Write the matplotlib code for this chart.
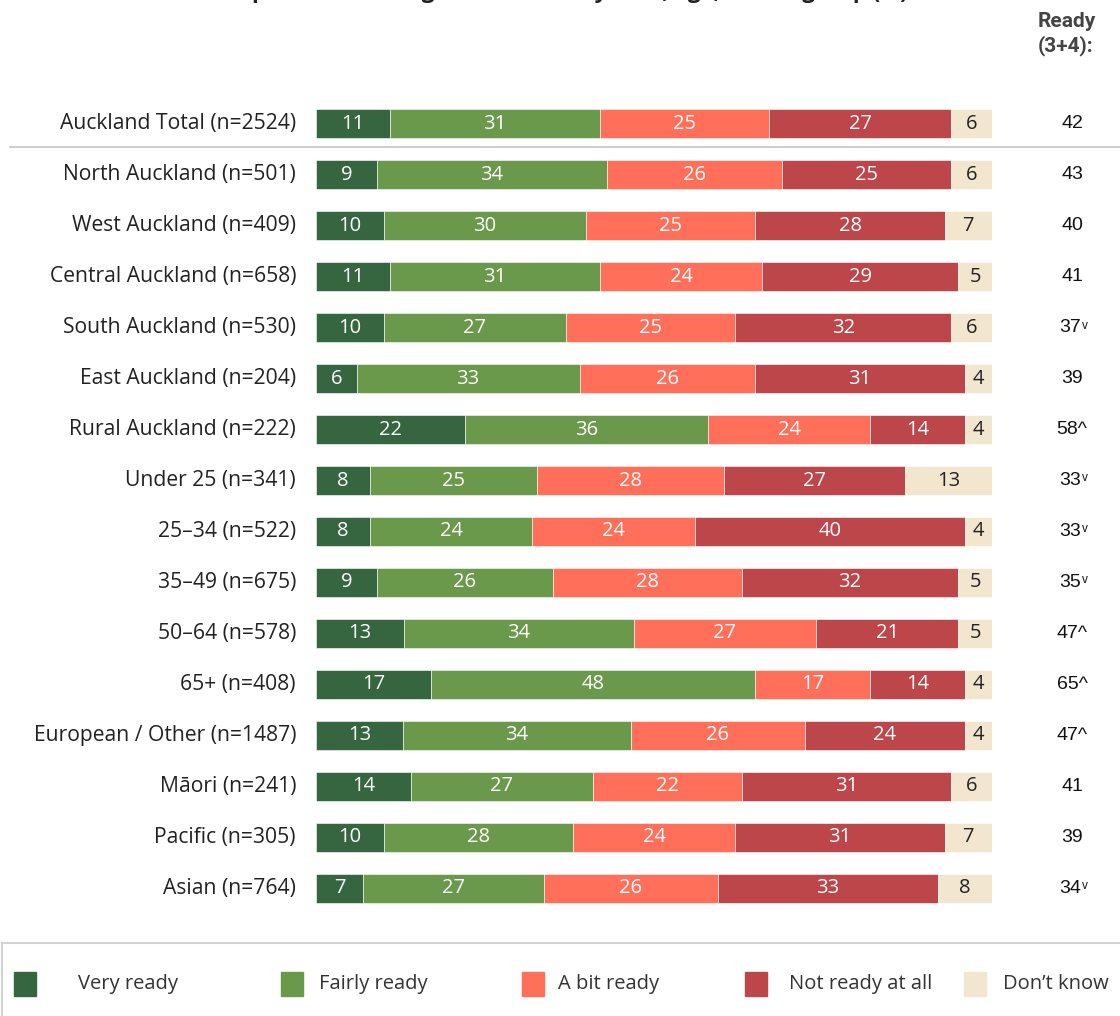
import matplotlib.pyplot as plt
import numpy as np
from matplotlib.patches import Rectangle
from matplotlib.lines import Line2D

# data
groups = ["Auckland Total (n=2524)", "North Auckland (n=501)", "West Auckland (n=409)",
          "Central Auckland (n=658)", "South Auckland (n=530)", "East Auckland (n=204)",
          "Rural Auckland (n=222)", "Under 25 (n=341)", "25\u201334 (n=522)",
          "35\u201349 (n=675)", "50\u201364 (n=578)", "65+ (n=408)",
          "European / Other (n=1487)", "M\u0101ori (n=241)", "Pacific (n=305)", "Asian (n=764)"]
categories = ["Very ready", "Fairly ready", "A bit ready", "Not ready at all", "Don\u2019t know"]
very_ready = [11, 9, 10, 11, 10, 6, 22, 8, 8, 9, 13, 17, 13, 14, 10, 7]
fairly_ready = [31, 34, 30, 31, 27, 33, 36, 25, 24, 26, 34, 48, 34, 27, 28, 27]
bit_ready = [25, 26, 25, 24, 25, 26, 24, 28, 24, 28, 27, 17, 26, 22, 24, 26]
not_ready = [27, 25, 28, 29, 32, 31, 14, 27, 40, 32, 21, 14, 24, 31, 31, 33]
dont_know = [6, 6, 7, 5, 6, 4, 4, 13, 4, 5, 5, 4, 4, 6, 7, 8]
ready_34 = [42, 43, 40, 41, 37, 39, 58, 33, 33, 35, 47, 65, 47, 41, 39, 34]
ready_flag = ["", "", "", "", "v", "", "^", "v", "v", "v", "^", "^", "^", "", "", "v"]

colors = ["#356640", "#6a994c", "#ff6f59", "#bc464a", "#f2e6cf"]
text_cols = ["white", "white", "white", "white", "#222222"]

W, H = 1120, 1016
FONT = "Open Sans"

def fx(px):
    return px / W

def fy(py):
    return 1 - py / H

fig = plt.figure(figsize=(W / 100, H / 100), dpi=100)
ax = fig.add_axes([fx(316), fy(913.5), 676 / W, 815 / H])
ax.set_xlim(0, 100)
ax.set_ylim(len(groups) - 0.5, -0.5)
ax.axis("off")

vals = np.array([very_ready, fairly_ready, bit_ready, not_ready, dont_know], dtype=float)
shares = vals / vals.sum(axis=0) * 100  # bars all end at the same edge
y = np.arange(len(groups))
left = np.zeros(len(groups))
for k in range(len(categories)):
    ax.barh(y, shares[k], left=left, height=0.57, color=colors[k],
            edgecolor="white", linewidth=0.4)
    for i in range(len(groups)):
        ax.text(left[i] + shares[k][i] / 2, y[i], str(int(vals[k][i])), ha="center",
                va="center", color=text_cols[k], fontsize=14.5, family=FONT)
    left += shares[k]

px_unit = 676 / 100
for i, g in enumerate(groups):
    ax.text(-20 / px_unit, i, g, ha="right", va="center", fontsize=15.2,
            family=FONT, color="#222222", clip_on=False)
    xr = (1072 - 316) / px_unit
    if ready_flag[i] == "v":
        t = ax.text(xr + 1.3, i, str(ready_34[i]), ha="right", va="center",
                    fontsize=14, family="Liberation Sans", color="#111111", clip_on=False)
        ax.annotate("v", xy=(1.05, 0.98), xycoords=t, ha="left", va="top",
                    fontsize=8.5, family="Liberation Sans", color="#111111")
    else:
        ax.text(xr, i, str(ready_34[i]) + ready_flag[i], ha="center", va="center",
                fontsize=14, family="Liberation Sans", color="#111111", clip_on=False)

# header and title (the title sits mostly above the picture's top edge, as in the source)
fig.text(fx(1038), fy(34), "Ready\n(3+4):", ha="left", va="center", fontsize=15,
         fontweight="bold", family="Roboto", color="#444444", linespacing=1.25)
fig.text(fx(560), fy(-2), "Respondents\u2019 rating of readiness by area, age, ethnic group (%)",
         ha="center", va="baseline", fontsize=16, fontweight="bold", family=FONT,
         color="#222222")

# separator under the total row
fig.add_artist(Line2D([fx(10), 1], [fy(147), fy(147)], color="#c8c8c8", lw=1.3))

# legend box
fig.add_artist(Line2D([fx(2), 1], [fy(943), fy(943)], color="#d2d2d2", lw=1.5))
fig.add_artist(Line2D([fx(2), fx(2)], [fy(943), 0], color="#d2d2d2", lw=1.5))
sq_x = [14, 281, 522, 745, 964]
txt_x = [78, 319, 558, 789, 1003]
for k, cat in enumerate(categories):
    fig.add_artist(Rectangle((fx(sq_x[k]), fy(996)), 22 / W, 24 / H,
                             transform=fig.transFigure, color=colors[k]))
    fig.text(fx(txt_x[k]), fy(984), cat, ha="left", va="center", fontsize=14.5,
             family=FONT, color="#333333")

fig.savefig("out.png", dpi=100, facecolor="white")
